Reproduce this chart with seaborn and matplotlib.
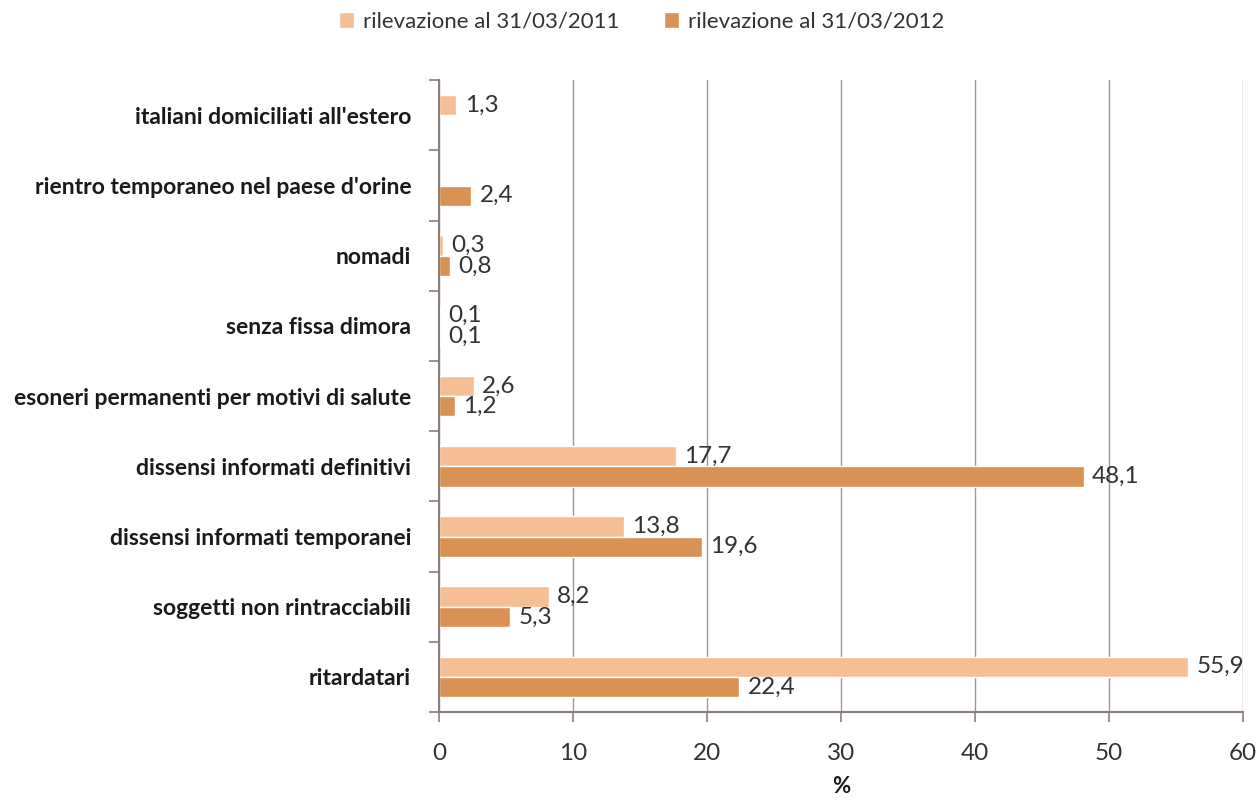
import pandas as pd
import numpy as np
import matplotlib.pyplot as plt
import seaborn as sns

categorie = ["italiani domiciliati all'estero",
             "rientro temporaneo nel paese d'orine",
             "nomadi",
             "senza fissa dimora",
             "esoneri permanenti per motivi di salute",
             "dissensi informati definitivi",
             "dissensi informati temporanei",
             "soggetti non rintracciabili",
             "ritardatari"]
serie = ["rilevazione al 31/03/2011", "rilevazione al 31/03/2012"]
val_2011 = [1.3, np.nan, 0.3, 0.1, 2.6, 17.7, 13.8, 8.2, 55.9]
val_2012 = [np.nan, 2.4, 0.8, 0.1, 1.2, 48.1, 19.6, 5.3, 22.4]
colori = ["#F6BE94", "#D99154"]

df = pd.DataFrame({
    "categoria": categorie * 2,
    "serie": [serie[0]] * len(categorie) + [serie[1]] * len(categorie),
    "valore": val_2011 + val_2012,
}).dropna()

sns.set_style("white")
plt.rcParams['font.family'] = ['Lato', 'DejaVu Sans']

fig = plt.figure(figsize=(12.59, 8.02), dpi=100)
ax = fig.add_axes([0.3487, 0.1122, 0.6386, 0.7878])

sns.barplot(data=df, y="categoria", x="valore", hue="serie",
            order=categorie, hue_order=serie, palette=colori,
            orient="h", width=0.58, saturation=1, ax=ax, legend=True)

for c in ax.containers:
    etichette = [f"{v:.1f}".replace('.', ',') for v in c.datavalues]
    ax.bar_label(c, labels=etichette, padding=6, fontsize=17.5, color="#333333")

griglia = "#A39594"
ax.set_xlim(0, 60)
ax.set_xticks(range(0, 61, 10))
ax.set_ylim(len(categorie) - 0.5, -0.5)
ax.xaxis.grid(True, color=griglia, linewidth=1)
ax.set_axisbelow(True)

for lato in ["top", "right"]:
    ax.spines[lato].set_visible(False)
for lato in ["left", "bottom"]:
    ax.spines[lato].set_color("#8C7E7E")
    ax.spines[lato].set_linewidth(1.5)

# tacche sull'asse y tra le categorie
ax.set_yticks(np.arange(len(categorie)))
ax.set_yticklabels(categorie, fontsize=16.5, fontweight="bold", color="#1a1a1a")
ax.set_yticks(np.arange(-0.5, len(categorie), 1), minor=True)
ax.tick_params(axis="y", which="major", left=False, length=0, pad=20)
ax.tick_params(axis="y", which="minor", left=True, length=7, color="#8C7E7E", width=1.2)
ax.tick_params(axis="x", bottom=True, length=7, color="#8C7E7E", width=1.2, pad=15,
               labelsize=17.5, labelcolor="#333333")

ax.set_ylabel("")
ax.set_xlabel("%", fontsize=16, fontweight="bold", labelpad=9, color="#1a1a1a")

ax.legend(loc="upper center", bbox_to_anchor=(0.252, 1.14), ncol=2,
          frameon=False, fontsize=16, handlelength=0.7, handleheight=0.7,
          columnspacing=2.0, handletextpad=0.4, labelcolor="#333333")

plt.savefig("out.png", dpi=100)
